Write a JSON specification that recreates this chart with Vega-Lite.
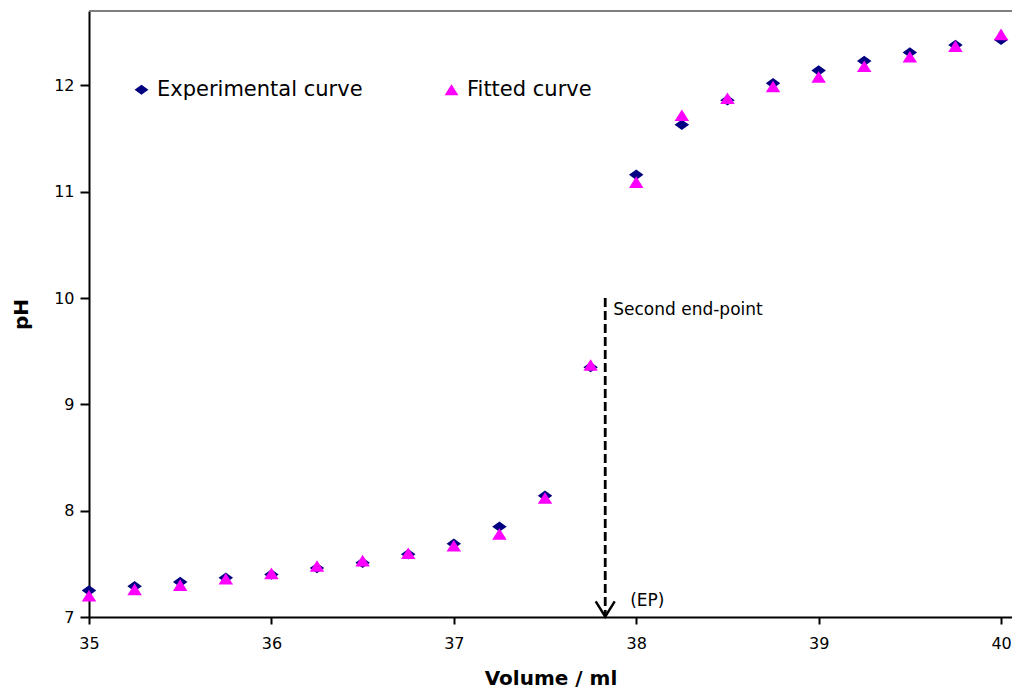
{
  "$schema": "https://vega.github.io/schema/vega-lite/v6.json",
  "autosize": {"type": "none"},
  "padding": {"left": 89, "top": 11, "right": 0, "bottom": 75},
  "width": 923,
  "height": 606,
  "background": "white",
  "config": {
    "view": {"stroke": null},
    "font": "DejaVu Sans"
  },
  "datasets": {
    "titration": [
      {"volume": 35.0, "pH": 7.25, "series": "Experimental curve"},
      {"volume": 35.25, "pH": 7.29, "series": "Experimental curve"},
      {"volume": 35.5, "pH": 7.33, "series": "Experimental curve"},
      {"volume": 35.75, "pH": 7.37, "series": "Experimental curve"},
      {"volume": 36.0, "pH": 7.40, "series": "Experimental curve"},
      {"volume": 36.25, "pH": 7.46, "series": "Experimental curve"},
      {"volume": 36.5, "pH": 7.51, "series": "Experimental curve"},
      {"volume": 36.75, "pH": 7.59, "series": "Experimental curve"},
      {"volume": 37.0, "pH": 7.69, "series": "Experimental curve"},
      {"volume": 37.25, "pH": 7.85, "series": "Experimental curve"},
      {"volume": 37.5, "pH": 8.14, "series": "Experimental curve"},
      {"volume": 37.75, "pH": 9.35, "series": "Experimental curve"},
      {"volume": 38.0, "pH": 11.16, "series": "Experimental curve"},
      {"volume": 38.25, "pH": 11.63, "series": "Experimental curve"},
      {"volume": 38.5, "pH": 11.86, "series": "Experimental curve"},
      {"volume": 38.75, "pH": 12.02, "series": "Experimental curve"},
      {"volume": 39.0, "pH": 12.14, "series": "Experimental curve"},
      {"volume": 39.25, "pH": 12.23, "series": "Experimental curve"},
      {"volume": 39.5, "pH": 12.31, "series": "Experimental curve"},
      {"volume": 39.75, "pH": 12.38, "series": "Experimental curve"},
      {"volume": 40.0, "pH": 12.43, "series": "Experimental curve"},
      {"volume": 35.0, "pH": 7.20, "series": "Fitted curve"},
      {"volume": 35.25, "pH": 7.26, "series": "Fitted curve"},
      {"volume": 35.5, "pH": 7.30, "series": "Fitted curve"},
      {"volume": 35.75, "pH": 7.36, "series": "Fitted curve"},
      {"volume": 36.0, "pH": 7.41, "series": "Fitted curve"},
      {"volume": 36.25, "pH": 7.48, "series": "Fitted curve"},
      {"volume": 36.5, "pH": 7.53, "series": "Fitted curve"},
      {"volume": 36.75, "pH": 7.60, "series": "Fitted curve"},
      {"volume": 37.0, "pH": 7.67, "series": "Fitted curve"},
      {"volume": 37.25, "pH": 7.78, "series": "Fitted curve"},
      {"volume": 37.5, "pH": 8.12, "series": "Fitted curve"},
      {"volume": 37.75, "pH": 9.37, "series": "Fitted curve"},
      {"volume": 38.0, "pH": 11.09, "series": "Fitted curve"},
      {"volume": 38.25, "pH": 11.72, "series": "Fitted curve"},
      {"volume": 38.5, "pH": 11.88, "series": "Fitted curve"},
      {"volume": 38.75, "pH": 11.99, "series": "Fitted curve"},
      {"volume": 39.0, "pH": 12.08, "series": "Fitted curve"},
      {"volume": 39.25, "pH": 12.18, "series": "Fitted curve"},
      {"volume": 39.5, "pH": 12.27, "series": "Fitted curve"},
      {"volume": 39.75, "pH": 12.37, "series": "Fitted curve"},
      {"volume": 40.0, "pH": 12.48, "series": "Fitted curve"}
    ],
    "endpoint": [
      {"ep": 37.83, "top": 10, "base": 7}
    ]
  },
  "layer": [
    {
      "data": {"name": "endpoint"},
      "mark": {"type": "rule", "color": "#7f7f7f", "strokeWidth": 2},
      "encoding": {
        "y": {"datum": 12.7, "type": "quantitative"}
      }
    },
    {
      "data": {"name": "titration"},
      "mark": {"type": "point", "filled": true, "size": 210, "opacity": 1, "strokeWidth": 0},
      "encoding": {
        "x": {
          "field": "volume", "type": "quantitative",
          "scale": {"domain": [35, 40.06], "nice": false, "zero": false},
          "axis": {
            "values": [35, 36, 37, 38, 39, 40], "format": "d",
            "title": "Volume / ml",
            "grid": false,
            "domainColor": "black", "domainWidth": 2,
            "tickColor": "black", "tickWidth": 2, "tickSize": 7,
            "labelFont": "DejaVu Sans", "labelFontSize": 16, "labelColor": "black",
            "labelPadding": 11, "labelFlush": false,
            "titleFont": "DejaVu Sans", "titleFontSize": 20, "titleFontWeight": "bold",
            "titleColor": "black", "titlePadding": 17
          }
        },
        "y": {
          "field": "pH", "type": "quantitative",
          "scale": {"domain": [7, 12.7], "nice": false, "zero": false},
          "axis": {
            "values": [7, 8, 9, 10, 11, 12], "format": "d",
            "title": "pH",
            "grid": false,
            "domainColor": "black", "domainWidth": 2,
            "tickColor": "black", "tickWidth": 2, "tickSize": 9,
            "labelFont": "DejaVu Sans", "labelFontSize": 16, "labelColor": "black",
            "labelPadding": 6,
            "titleFont": "DejaVu Sans", "titleFontSize": 20, "titleFontWeight": "bold",
            "titleColor": "black", "titlePadding": 22
          }
        },
        "color": {
          "field": "series", "type": "nominal",
          "scale": {"domain": ["Experimental curve", "Fitted curve"], "range": ["#000080", "#FF00FF"]},
          "legend": {
            "title": null,
            "orient": "none",
            "legendX": 42,
            "legendY": 68,
            "direction": "horizontal",
            "padding": 0,
            "columnPadding": 78,
            "labelFont": "DejaVu Sans",
            "labelFontSize": 21,
            "labelColor": "black",
            "labelOffset": 5,
            "labelLimit": 400,
            "symbolSize": 190,
            "symbolStrokeWidth": 0
          }
        },
        "shape": {
          "field": "series", "type": "nominal",
          "scale": {
            "domain": ["Experimental curve", "Fitted curve"],
            "range": ["M-1,0L0,-0.72L1,0L0,0.72Z", "M0,-0.8L1,0.8L-1,0.8Z"]
          },
          "legend": {
            "title": null,
            "orient": "none",
            "legendX": 42,
            "legendY": 68,
            "direction": "horizontal",
            "padding": 0,
            "columnPadding": 78,
            "labelFont": "DejaVu Sans",
            "labelFontSize": 21,
            "labelColor": "black",
            "labelOffset": 5,
            "labelLimit": 400,
            "symbolSize": 190,
            "symbolStrokeWidth": 0
          }
        }
      }
    },
    {
      "data": {"name": "endpoint"},
      "mark": {"type": "rule", "color": "black", "strokeWidth": 2.8, "strokeDash": [9, 4]},
      "encoding": {
        "x": {"field": "ep", "type": "quantitative"},
        "y": {"field": "top", "type": "quantitative"},
        "y2": {"field": "base"}
      }
    },
    {
      "data": {"name": "endpoint"},
      "mark": {"type": "point", "shape": "M-1,-0.8L0,0.8L1,-0.8", "filled": false, "stroke": "black", "strokeWidth": 2.5, "size": 361, "yOffset": -8, "opacity": 1},
      "encoding": {
        "x": {"field": "ep", "type": "quantitative"},
        "y": {"field": "base", "type": "quantitative"}
      }
    },
    {
      "data": {"name": "endpoint"},
      "mark": {"type": "text", "text": "Second end-point", "align": "left", "baseline": "middle", "dx": 8, "dy": 12, "font": "DejaVu Sans", "fontSize": 17, "color": "black"},
      "encoding": {
        "x": {"field": "ep", "type": "quantitative"},
        "y": {"field": "top", "type": "quantitative"}
      }
    },
    {
      "data": {"name": "endpoint"},
      "mark": {"type": "text", "text": "(EP)", "align": "left", "baseline": "middle", "dx": 25, "dy": -16, "font": "DejaVu Sans", "fontSize": 17, "color": "black"},
      "encoding": {
        "x": {"field": "ep", "type": "quantitative"},
        "y": {"field": "base", "type": "quantitative"}
      }
    }
  ]
}
